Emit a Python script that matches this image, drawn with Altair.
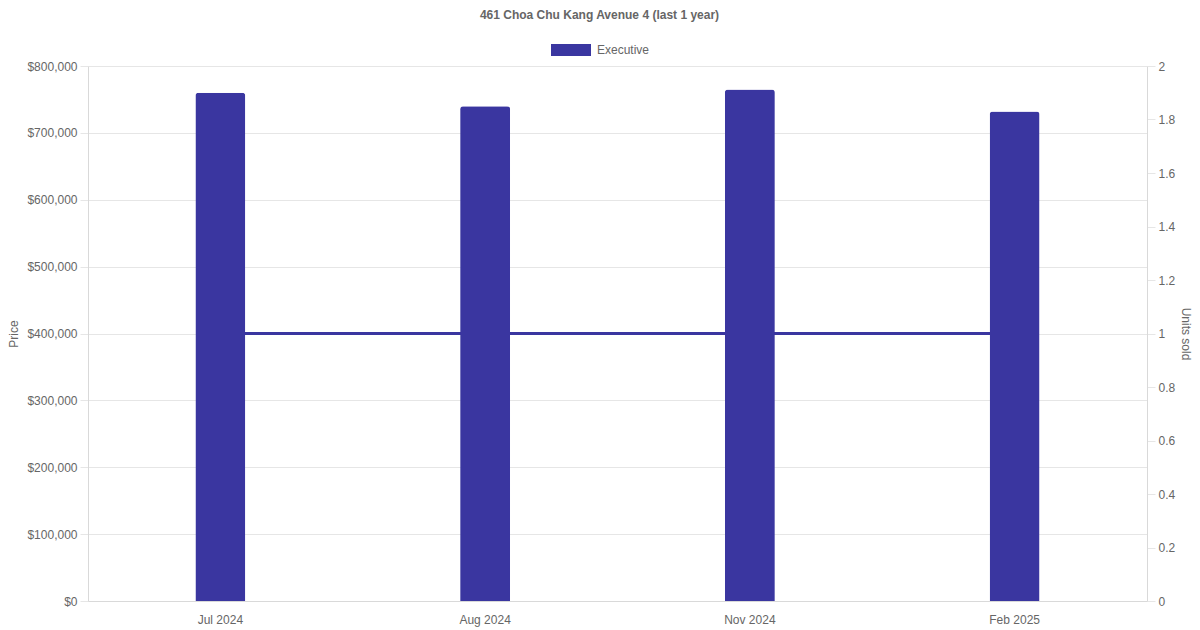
import altair as alt
import pandas as pd

months = ["Jul 2024", "Aug 2024", "Nov 2024", "Feb 2025"]
prices = [760000, 740000, 765000, 732000]
units = [1, 1, 1, 1]
series = "Executive"

df = pd.DataFrame({"month": months, "price": prices, "units": units, "type": [series] * len(months)})

COLOR = "#3a36a0"
GRID = "#e6e6e6"
TXT = "#666666"
FONT = "Liberation Sans"

x = alt.X("month:N", sort=months, title=None,
          scale=alt.Scale(paddingInner=0, paddingOuter=0),
          axis=alt.Axis(labelAngle=0, ticks=False, grid=False, domainColor="#d9d9d9",
                        labelColor=TXT, labelFontSize=12, labelPadding=13, labelFont=FONT))

base = alt.Chart(df)

bars = base.mark_bar(size=50, cornerRadiusTopLeft=3, cornerRadiusTopRight=3).encode(
    x=x,
    y=alt.Y("price:Q", title="Price",
            scale=alt.Scale(domain=[0, 800000], nice=False),
            axis=alt.Axis(format="$,d", values=list(range(0, 800001, 100000)),
                          labelOverlap=False,
                          grid=True, gridColor=GRID, tickColor=GRID, tickSize=8,
                          domainColor="#d9d9d9", labelColor=TXT, labelFontSize=12,
                          labelPadding=3, labelFont=FONT, titleColor=TXT, titleFontSize=12,
                          titleFontWeight="normal", titleFont=FONT, titlePadding=6)),
    color=alt.Color("type:N", scale=alt.Scale(domain=[series], range=[COLOR]),
                    legend=alt.Legend(title=None, orient="none", legendX=463, legendY=-36,
                                      symbolType="M-1,-0.3H1V0.3H-1Z", symbolSize=1600,
                                      symbolStrokeWidth=0, labelFontSize=12, labelColor=TXT,
                                      labelFont=FONT, labelOffset=6, padding=0)),
)

line = base.mark_line(color=COLOR, strokeWidth=3).encode(
    x=x,
    y=alt.Y("units:Q", title="Units sold",
            scale=alt.Scale(domain=[0, 2], nice=False),
            axis=alt.Axis(orient="right", format="~g", values=[round(i * 0.2, 1) for i in range(11)],
                          labelOverlap=False,
                          grid=False, tickColor=GRID, tickSize=8, domainColor="#d9d9d9",
                          labelColor=TXT, labelFontSize=12, labelPadding=3, labelFont=FONT,
                          titleColor=TXT, titleFontSize=12, titleFontWeight="normal",
                          titleFont=FONT, titlePadding=4)),
)

chart = alt.layer(line, bars).resolve_scale(y="independent").properties(
    width=1059, height=535,
    autosize=alt.AutoSizeParams(type="none"),
    padding={"left": 80, "top": 58, "right": 45, "bottom": 28},
    title=alt.TitleParams("461 Choa Chu Kang Avenue 4 (last 1 year)", fontSize=12,
                          fontWeight="bold", color=TXT, font=FONT, frame="group",
                          anchor="middle", dx=-18, offset=8),
).configure_view(stroke=None)

chart.save("out.html", embed_options={"renderer": "svg", "actions": False})
